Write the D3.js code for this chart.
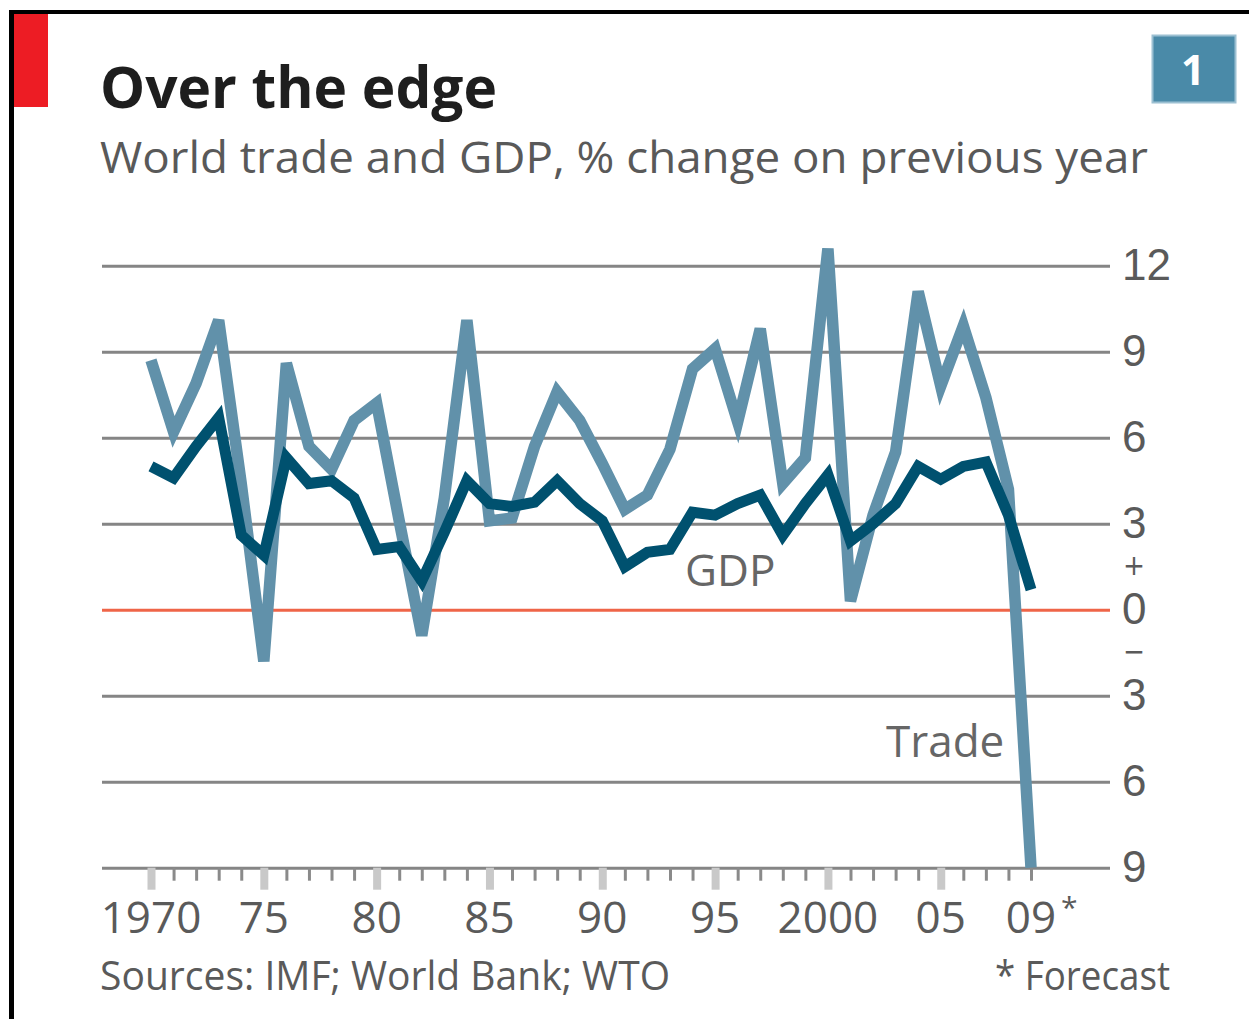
<!DOCTYPE html>
<html>
<head>
<meta charset="utf-8">
<script src="https://cdn.jsdelivr.net/npm/d3@7"></script>
<style>
  html, body { margin: 0; padding: 0; background: #fff; }
  svg { display: block; font-family: "Open Sans", "Noto Sans", sans-serif; }
</style>
</head>
<body>
<div id="chart"></div>
<script>
// ---- data ----
const years = [1970, 1971, 1972, 1973, 1974, 1975, 1976, 1977, 1978, 1979,
               1980, 1981, 1982, 1983, 1984, 1985, 1986, 1987, 1988, 1989,
               1990, 1991, 1992, 1993, 1994, 1995, 1996, 1997, 1998, 1999,
               2000, 2001, 2002, 2003, 2004, 2005, 2006, 2007, 2008, 2009];
const trade = [8.7, 6.2, 7.9, 10.1, 4.4, -1.8, 8.6, 5.7, 4.9, 6.6,
               7.2, 3.1, -0.9, 3.9, 10.1, 3.1, 3.2, 5.7, 7.6, 6.6,
               5.1, 3.5, 4.0, 5.6, 8.4, 9.1, 6.55, 9.8, 4.4, 5.3,
               12.6, 0.3, 3.3, 5.5, 11.1, 7.8, 9.9, 7.4, 4.2, -9.0];
const gdp = [5.0, 4.6, 5.7, 6.7, 2.6, 1.9, 5.3, 4.4, 4.5, 3.9,
             2.1, 2.2, 1.0, 2.7, 4.5, 3.7, 3.6, 3.75, 4.5, 3.7,
             3.1, 1.5, 2.0, 2.1, 3.4, 3.3, 3.7, 4.0, 2.6, 3.7,
             4.7, 2.4, 3.0, 3.7, 5.0, 4.55, 5.0, 5.15, 3.3, 0.7];
const yTicks = [12, 9, 6, 3, 0, -3, -6, -9];
const yTickLabels = ["12", "9", "6", "3", "0", "3", "6", "9"];
const signTicks = [1.5, -1.5];
const signLabels = ["+", "\u2212"];
const majorYears = [1970, 1975, 1980, 1985, 1990, 1995, 2000, 2005];
const xLabelYears = [1970, 1975, 1980, 1985, 1990, 1995, 2000, 2005, 2009];
const xLabelTexts = ["1970", "75", "80", "85", "90", "95", "2000", "05", "09"];

// ---- layout ----
const W = 1249, H = 1019;
const svg = d3.select("#chart").append("svg").attr("width", W).attr("height", H);
svg.append("rect").attr("width", W).attr("height", H).attr("fill", "#fff");

// frame
svg.append("rect").attr("x", 9).attr("y", 10).attr("width", W - 9).attr("height", 4).attr("fill", "#000");
svg.append("rect").attr("x", 9).attr("y", 10).attr("width", 5).attr("height", H - 10).attr("fill", "#000");
svg.append("rect").attr("x", 14).attr("y", 14).attr("width", 34).attr("height", 93).attr("fill", "#ed1c24");

// title / subtitle
svg.append("text").attr("x", 100).attr("y", 108)
  .attr("font-size", 58).attr("font-weight", 700).attr("fill", "#1e1e1e")
  .attr("textLength", 397).attr("lengthAdjust", "spacingAndGlyphs")
  .text("Over the edge");
svg.append("text").attr("x", 100).attr("y", 173)
  .attr("font-size", 44).attr("fill", "#595959")
  .attr("textLength", 1048).attr("lengthAdjust", "spacingAndGlyphs")
  .text("World trade and GDP, % change on previous year");

// chart number box
svg.append("rect").attr("x", 1152.5).attr("y", 35.5).attr("width", 83).attr("height", 67)
  .attr("fill", "#4a8aa8").attr("stroke", "#9cc0d2").attr("stroke-width", 2);
svg.append("text").attr("x", 1193).attr("y", 85).attr("text-anchor", "middle")
  .attr("font-size", 42).attr("font-weight", 700).attr("fill", "#fff").text("1");

// scales
const x = d3.scaleLinear().domain([1970, 2009]).range([151, 1031]);
const y = d3.scaleLinear().domain([-9, 12]).range([867.7, 265.7]);
const gridLeft = 102, gridRight = 1110;

// y axis (right) with gridlines
const yAxis = d3.axisRight(y)
  .tickValues(yTicks)
  .tickSize(-(gridRight - gridLeft))
  .tickPadding(12)
  .tickFormat((d, i) => yTickLabels[i]);
const gy = svg.append("g").attr("transform", `translate(${gridRight},0)`).call(yAxis);
gy.select(".domain").remove();
gy.selectAll(".tick line")
  .attr("stroke", d => d === 0 ? "#ef6548" : "#858585")
  .attr("stroke-width", 3);
gy.selectAll(".tick text")
  .attr("fill", "#5a5a5a")
  .style("font-size", "44px")
  .style("font-family", "'Liberation Sans', Arial, sans-serif");

// +/- signs between the 3 and 0 labels
svg.append("g").selectAll("text").data(signTicks).join("text")
  .attr("x", 1123).attr("y", d => y(d)).attr("dy", "0.3em")
  .attr("fill", "#5a5a5a")
  .attr("textLength", 22).attr("lengthAdjust", "spacingAndGlyphs")
  .style("font-size", "28px")
  .style("font-family", "'DejaVu Sans', sans-serif")
  .text((d, i) => signLabels[i]);

// x axis ticks
const xAxis = d3.axisBottom(x).tickValues(years).tickSize(13).tickFormat("");
const gx = svg.append("g").attr("transform", `translate(0,${y(-9)})`).call(xAxis);
gx.select(".domain").remove();
gx.selectAll(".tick line")
  .attr("stroke", d => majorYears.includes(d) ? "#c9c9c9" : "#8a8a8a")
  .attr("stroke-width", d => majorYears.includes(d) ? 8 : 3)
  .attr("y2", d => majorYears.includes(d) ? 22 : 13);

// x labels
svg.append("g").selectAll("text").data(xLabelYears).join("text")
  .attr("x", d => x(d)).attr("y", 933)
  .attr("text-anchor", "middle").attr("font-size", 44).attr("fill", "#5a5a5a")
  .text((d, i) => xLabelTexts[i]);
svg.append("text").attr("x", x(2009) + 30).attr("y", 918)
  .attr("font-size", 30).attr("fill", "#5a5a5a").text("*");

// lines
const line = d3.line().x((d, i) => x(years[i])).y(d => y(d));
svg.append("path").datum(trade).attr("d", line)
  .attr("fill", "none").attr("stroke", "#6191aa").attr("stroke-width", 11.5);
svg.append("path").datum(gdp).attr("d", line)
  .attr("fill", "none").attr("stroke", "#00516f").attr("stroke-width", 11);

// series labels
svg.append("text").attr("x", 685).attr("y", 586).attr("font-size", 44).attr("fill", "#666").text("GDP");
svg.append("text").attr("x", 886).attr("y", 757).attr("font-size", 44).attr("fill", "#666").text("Trade");

// footer
svg.append("text").attr("x", 100).attr("y", 990)
  .attr("font-size", 40).attr("fill", "#5a5a5a")
  .attr("textLength", 570).attr("lengthAdjust", "spacingAndGlyphs")
  .text("Sources: IMF; World Bank; WTO");
svg.append("text").attr("x", 995).attr("y", 990)
  .attr("font-size", 40).attr("fill", "#5a5a5a")
  .attr("textLength", 175).attr("lengthAdjust", "spacingAndGlyphs")
  .text("* Forecast");
</script>
</body>
</html>
